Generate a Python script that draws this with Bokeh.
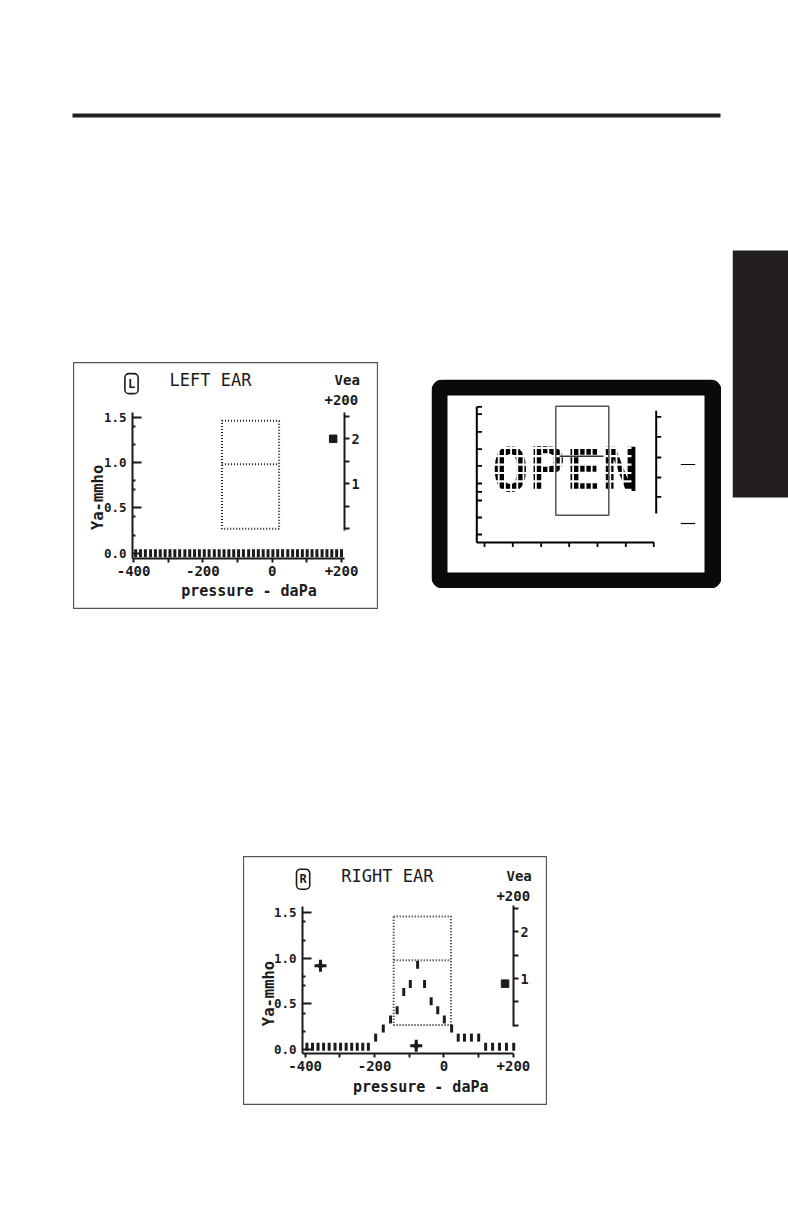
from bokeh.plotting import figure
from bokeh.layouts import column, row
from bokeh.models import Range1d, LinearAxis, FixedTicker, Label, Spacer, BoxAnnotation
from bokeh.embed import file_html
from bokeh.resources import INLINE
from bokeh.core.properties import value

INK = "#1b1b1b"
MONO = "DejaVu Sans Mono"

# ---------------- data ----------------
PRESSURE_TICKS = [-400, -300, -200, -100, 0, 100, 200]
PRESSURE_LABELS = {-400: "-400", -300: "", -200: "-200", -100: "", 0: "0", 100: "", 200: "+200"}
YA_TICKS = [0.0, 0.5, 1.0, 1.5]
YA_LABELS = {0: "0.0", 0.5: "0.5", 1: "1.0", 1.5: "1.5"}
YA_MINOR = [0.2, 0.4, 0.7, 0.8, 1.2, 1.4]
VEA_TICKS = [0.0, 0.5, 1.0, 1.5, 2.0, 2.5]
VEA_LABELS = {0: "", 0.5: "", 1: "1", 1.5: "", 2: "2", 2.5: ""}

NORMAL_PRESSURE = [-145, 20]          # daPa
NORMAL_YA = [0.27, 0.98, 1.46]        # mmho: bottom, divider, top

left_pressure = [-394, -380, -366, -351, -337, -323, -309, -295, -281, -267, -252,
                 -238, -224, -210, -196, -182, -167, -153, -139, -125, -111, -97,
                 -83, -68, -54, -40, -26, -12, 2, 16, 30, 45, 59, 73, 87, 101,
                 115, 129, 144, 158, 172, 186, 200]
left_ya = [0.0, 0.0, 0.0, 0.0, 0.0, 0.0, 0.0, 0.0, 0.0, 0.0, 0.0,
           0.0, 0.0, 0.0, 0.0, 0.0, 0.0, 0.0, 0.0, 0.0, 0.0, 0.0,
           0.0, 0.0, 0.0, 0.0, 0.0, 0.0, 0.0, 0.0, 0.0, 0.0, 0.0, 0.0, 0.0, 0.0,
           0.0, 0.0, 0.0, 0.0, 0.0, 0.0, 0.0]
left_vea = 2.0

right_pressure = [-395, -379, -363, -347, -331, -314, -298, -282, -266, -250, -234, -218,
                  -197, -175, -154, -135, -116, -97, -76, -56, -37, -18, 1, 22,
                  41, 59, 79, 100, 120, 140, 160, 180, 201]
right_ya = [0.03, 0.03, 0.03, 0.03, 0.03, 0.03, 0.03, 0.03, 0.03, 0.03, 0.03, 0.03,
            0.13, 0.23, 0.33, 0.43, 0.63, 0.72, 0.93, 0.72, 0.53, 0.43, 0.33, 0.23,
            0.13, 0.13, 0.13, 0.13, 0.03, 0.03, 0.03, 0.03, 0.03]
right_vea = 0.89
right_peak_pressure = -80
right_peak_ya = 0.92


def style_axis(ax, size):
    ax.axis_line_color = INK
    ax.axis_line_width = 2
    ax.major_tick_line_color = INK
    ax.major_tick_line_width = 2
    ax.minor_tick_line_color = INK
    ax.minor_tick_line_width = 2
    ax.major_label_text_font = MONO
    ax.major_label_text_font_size = size
    ax.major_label_text_font_style = "bold"
    ax.major_label_text_color = INK


def lab(p, x, y, text, size, style="bold", align="center", angle=0.0, **kw):
    p.add_layout(Label(x=x, y=y, text=text, text_font=MONO, text_font_size=size,
                       text_font_style=style, text_color=INK, text_align=align,
                       text_baseline="middle", angle=angle, **kw))


def tymp(width, height, xr, yr, vr, x_at, y_at, v_at, title, ear, pressure, ya, vea, peak=None):
    p = figure(width=width, height=height, output_backend="svg", toolbar_location=None,
               title=None, x_range=Range1d(*xr), y_range=Range1d(*yr),
               x_axis_type=None, y_axis_type=None, min_border=0)
    p.background_fill_color = "white"
    p.border_fill_color = "white"
    p.outline_line_color = "#555"
    p.outline_line_width = 1.3
    p.xgrid.visible = False
    p.ygrid.visible = False
    p.extra_y_ranges = {"vea": Range1d(*vr)}

    xa = LinearAxis(fixed_location=y_at, bounds=x_at,
                    ticker=FixedTicker(ticks=PRESSURE_TICKS, minor_ticks=[]))
    style_axis(xa, "14px")
    xa.major_label_overrides = PRESSURE_LABELS
    xa.major_tick_in = 0
    xa.major_tick_out = 4
    xa.minor_tick_in = 0
    xa.minor_tick_out = 0
    xa.major_label_standoff = 4
    p.add_layout(xa, "below")

    ya_ax = LinearAxis(fixed_location=x_at[0], bounds=(y_at, yr[1] - 0.55),
                       ticker=FixedTicker(ticks=YA_TICKS, minor_ticks=YA_MINOR))
    style_axis(ya_ax, "12.5px")
    ya_ax.major_label_overrides = YA_LABELS
    ya_ax.major_tick_in = 9
    ya_ax.major_tick_out = 0
    ya_ax.minor_tick_in = 3
    ya_ax.minor_tick_out = 0
    ya_ax.major_label_standoff = 6
    p.add_layout(ya_ax, "left")

    va = LinearAxis(y_range_name="vea", fixed_location=x_at[1], bounds=v_at,
                    ticker=FixedTicker(ticks=VEA_TICKS, minor_ticks=[]))
    style_axis(va, "13.5px")
    va.major_label_overrides = VEA_LABELS
    va.major_tick_in = 0
    va.major_tick_out = 5
    va.minor_tick_in = 0
    va.minor_tick_out = 0
    va.major_label_standoff = 2
    p.add_layout(va, "right")

    # normal region (dotted box)
    p.quad(left=[NORMAL_PRESSURE[0]], right=[NORMAL_PRESSURE[1]],
           bottom=[NORMAL_YA[0]], top=[NORMAL_YA[2]], fill_color=None,
           line_color=INK, line_width=2, line_dash="1 2")
    p.segment(x0=[NORMAL_PRESSURE[0]], x1=[NORMAL_PRESSURE[1]],
              y0=[NORMAL_YA[1]], y1=[NORMAL_YA[1]],
              line_color=INK, line_width=2, line_dash="1 2")

    # tympanogram samples
    p.rect(x=pressure, y=ya, width=3, height=8, width_units="screen",
           height_units="screen", fill_color=INK, line_color=None)

    # ear-canal volume marker
    p.scatter(x=[176], y=[vea], y_range_name="vea", marker="square", size=7.5,
              fill_color=INK, line_color=INK)

    if peak is not None:
        px, py = peak
        sx = [-356, px]
        sy = [py, 0.04]
        p.scatter(x=sx, y=sy, marker="cross", size=12, line_width=3, line_color=INK)
        p.scatter(x=sx, y=sy, marker="diamond", size=8, fill_color=INK, line_color=INK)

    # texts
    lab(p, -406, 1.87, ear, "12px", padding=3, border_line_color=INK,
        border_line_width=1.6, border_radius=4)
    lab(p, -296, 1.91, title, "17px", style="normal", align="left")
    lab(p, 180, 1.91, "Vea", "14px", align="left")
    lab(p, 151, 1.69, "+200", "14px", align="left")
    lab(p, -503, 0.615, "Ya-mmho", "15.5px", angle=1.5708)
    lab(p, -67, -0.417, "pressure - daPa", "15px")
    return p


left_fig = tymp(305, 247, (-573.4, 306.8), (-0.621, 2.103), (-1.793, 3.696),
                (-403.2, 208.7), -0.058, (-0.03, 2.58),
                "LEFT EAR", "L", left_pressure, left_ya, left_vea)
right_fig = tymp(304, 249, (-577.8, 298.3), (-0.615, 2.119), (-1.719, 3.612),
                 (-407.8, 200.3), -0.044, (-0.03, 2.57),
                 "RIGHT EAR", "R", right_pressure, right_ya, right_vea,
                 peak=(right_peak_pressure, right_peak_ya))


def blank(w, h):
    f = figure(width=w, height=h, output_backend="svg", toolbar_location=None, title=None,
               x_range=Range1d(0, w), y_range=Range1d(h, 0), min_border=0,
               x_axis_type=None, y_axis_type=None)
    f.grid.visible = False
    f.outline_line_color = None
    f.background_fill_color = "white"
    f.border_fill_color = "white"
    return f


# page header: rule (decoration)
header = blank(788, 250)
header.quad(left=[72], right=[720], top=[113], bottom=[117], fill_color="#231f20", line_color=None)

# side tab (decoration)
tab = blank(56, 359)
tab.quad(left=[0], right=[58], top=[-4], bottom=[247], fill_color="#231f20", line_color=None)

# "OPEN" LCD display
lcd = blank(290, 209)
lcd.add_layout(BoxAnnotation(left=0, right=290, top=0, bottom=209, fill_color="#0a0a0a",
                             fill_alpha=1, line_color=None, border_radius=11, level="underlay"))
lcd.add_layout(BoxAnnotation(left=16, right=273, top=16, bottom=193, fill_color="white",
                             fill_alpha=1, line_color=None, level="underlay"))
lcd.text(x=[134], y=[90], text=["OPEN"], text_font=value(MONO), text_font_size="61px",
         text_font_style="bold", text_align="center", text_baseline="middle", text_color="#000")
# dot-matrix gaps
gx = [61 + 6.2 * i for i in range(22)]
gy = [59.9 + 8.4 * i for i in range(8)]
lcd.segment(x0=gx, x1=gx, y0=[50] * len(gx), y1=[130] * len(gx), line_color="white", line_width=1.8)
lcd.segment(x0=[55] * len(gy), x1=[200] * len(gy), y0=gy, y1=gy, line_color="white", line_width=2.2)
# axes of the blank display
lcd.segment(x0=[45.3, 45.3, 224.7], x1=[45.3, 222.7, 224.7], y0=[27.3, 163, 31.3],
            y1=[163, 163, 134], line_color="#000", line_width=2)
lt = [27.3, 34.7, 52.3, 69.7, 86.3, 104, 112.3, 121, 138, 155]
lcd.segment(x0=[45.3] * len(lt), x1=[50.5] * len(lt), y0=lt, y1=lt, line_color="#000", line_width=1.8)
bt = [53, 81.3, 109.7, 137.7, 166, 194.3, 222.3]
lcd.segment(x0=bt, x1=bt, y0=[163] * len(bt), y1=[167.5] * len(bt), line_color="#000", line_width=1.8)
rt = [37.3, 57.3, 78, 98, 117.3]
lcd.segment(x0=[224.7] * len(rt), x1=[229.7] * len(rt), y0=rt, y1=rt, line_color="#000", line_width=1.8)
lcd.segment(x0=[249.3, 249.3], x1=[263.7, 263.7], y0=[85, 144], y1=[85, 144], line_color="#000", line_width=1.2)
lcd.quad(left=[124.3], right=[177.3], top=[26.7], bottom=[135.7], fill_color=None,
         line_color="#555", line_width=1.5)
lcd.segment(x0=[128], x1=[172], y0=[76.7], y1=[76.7], line_color="#333", line_width=1.5)

row_b = row(Spacer(width=73, height=359),
            column(Spacer(width=305, height=112), left_fig),
            Spacer(width=53, height=359),
            column(Spacer(width=290, height=129), lcd, Spacer(width=290, height=21)),
            Spacer(width=11, height=359), column(tab))
row_d = row(Spacer(width=243, height=249), right_fig)
page = column(header, row_b, Spacer(width=788, height=247), row_d)

open("out.html", "w").write(file_html(page, INLINE))
